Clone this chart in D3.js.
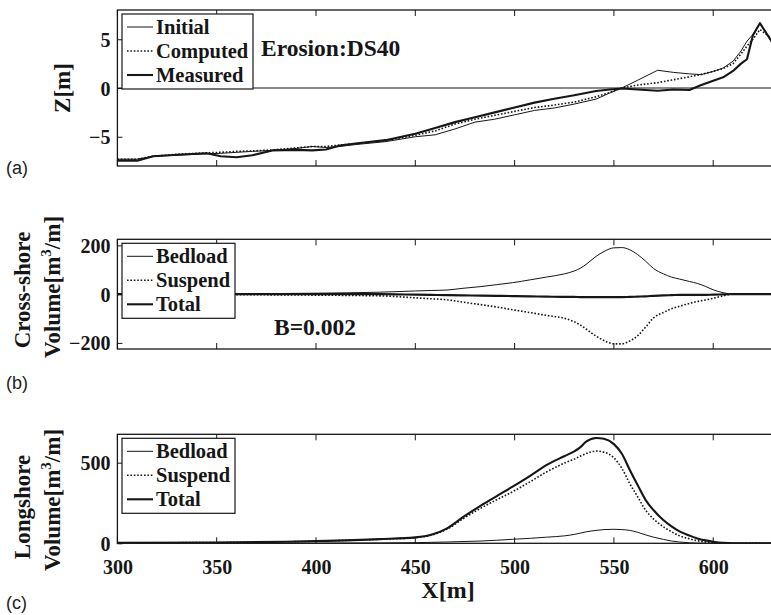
<!DOCTYPE html>
<html><head><meta charset="utf-8">
<script src="https://cdn.jsdelivr.net/npm/d3@7/dist/d3.min.js"></script>
<style>body{margin:0;background:#fff}svg{display:block}
.sf{font-family:'Liberation Serif','Tinos','Times New Roman',Times,'DejaVu Serif',serif;font-weight:bold}</style>
</head><body>
<svg id="c" width="771" height="615"></svg>
<script>
// ---------- DATA ----------
const xProfile = [300,310,318,330,345,352,360,368,378,390,398,405,412,420,435,450,460,470,480,490,500,510,520,530,541,548,554,562,572,580,588,594,600,605,610,614,617,620,623.5,630];
const initialZ  = [-7.3,-7.3,-7.0,-6.9,-6.75,-6.7,-6.6,-6.5,-6.4,-6.2,-6.0,-6.1,-6.0,-5.8,-5.5,-5.0,-4.8,-4.2,-3.5,-3.2,-2.75,-2.3,-2.05,-1.65,-1.14,-0.5,0,0.8,1.82,1.6,1.45,1.37,1.7,2.05,2.75,3.8,4.8,5.5,6.65,4.5];
const computedZ = [-7.3,-7.3,-7.0,-6.8,-6.65,-6.6,-6.5,-6.45,-6.35,-6.15,-6.0,-6.0,-5.85,-5.7,-5.4,-4.85,-4.4,-3.7,-3.2,-2.8,-2.4,-2.0,-1.75,-1.45,-0.9,-0.45,0,0.3,0.55,0.85,1.15,1.4,1.7,2.0,2.5,3.5,4.3,5.0,6.0,5.0];
const measuredZ = [-7.45,-7.45,-7.0,-6.85,-6.7,-7.0,-7.1,-6.9,-6.4,-6.35,-6.4,-6.3,-5.9,-5.7,-5.35,-4.7,-4.1,-3.5,-3.0,-2.5,-2.0,-1.5,-1.1,-0.75,-0.3,-0.15,-0.05,-0.15,-0.28,-0.15,-0.2,0.3,0.75,1.1,1.75,2.5,2.95,5.4,6.65,4.6];

const xTransport = [300,350,400,432,450,458,466,474,483,491,499,508,516,525,530,533,536,541,545,550,554,558,562,566,570,575,579,583,588,592,596,600,605,610,620,630];
const crossBedload = [0,1,4,8,13,15,17,24,31,39,47,59,70,83,95,106,122,155,175,190,191,182,162,135,105,83,70,62,52,44,32,18,6,0,0,0];
const crossSuspend = [-1,-2,-4,-7,-15,-19,-23,-33,-43,-53,-64,-76,-87,-99,-113,-126,-143,-172,-190,-204,-204,-192,-170,-135,-97,-75,-60,-50,-38,-30,-24,-17,-7,0,0,0];
const crossTotal   = [0,0,0,0,-2,-3,-4,-5,-6,-7,-8,-9,-10,-11,-11,-12,-12,-12,-12,-12,-12,-11,-10,-9,-7,-5,-4,-3,-3,-3,-3,-2,-1,0,0,0];
const longBedload = [0,0,1,2,4,6,8,11,14,19,25,31,38,46,55,63,71,80,85,87,85,80,68,52,38,24,14,8,3,1,0,0,0,0,0,0];
const longSuspend = [3,5,13,25,35,50,88,152,218,270,320,383,442,497,522,540,556,572,565,530,465,370,288,205,150,102,72,47,28,16,8,3,1,0,0,0];
const longTotal   = [3,5,14,26,37,53,93,162,234,293,351,420,485,540,570,595,630,653,648,615,555,455,360,268,205,143,105,74,48,30,18,10,3,0,0,0];

const xTicks = [300,350,400,450,500,550,600];
const zTicks = [-5,0,5];
const crossTicks = [-200,0,200];
const longTicks = [0,500];

// ---------- LAYOUT ----------
const svg = d3.select('#c');
const ink = '#161616';
const x = d3.scaleLinear().domain([300,630]).range([117.4, 772.8]);

const panels = [
  {id:'a', top:10, bottom:166, domain:[-8,8], ticks:zTicks, xs:xProfile, curve:d3.curveLinear,
   series:[{name:'Initial', v:initialZ, w:1, dash:null},
           {name:'Computed', v:computedZ, w:1.6, dash:'1.6,1.8'},
           {name:'Measured', v:measuredZ, w:2.1, dash:null}],
   legendW:131, zeroLine:true},
  {id:'b', top:239.3, bottom:349, domain:[-225,225], ticks:crossTicks, xs:xTransport, curve:d3.curveMonotoneX,
   series:[{name:'Bedload', v:crossBedload, w:1, dash:null},
           {name:'Suspend', v:crossSuspend, w:1.6, dash:'1.6,1.8'},
           {name:'Total', v:crossTotal, w:2.1, dash:null}],
   legendW:113},
  {id:'c', top:434.3, bottom:543.3, domain:[0,676], ticks:longTicks, xs:xTransport, curve:d3.curveMonotoneX,
   series:[{name:'Bedload', v:longBedload, w:1, dash:null},
           {name:'Suspend', v:longSuspend, w:1.6, dash:'1.6,1.8'},
           {name:'Total', v:longTotal, w:2.1, dash:null}],
   legendW:113, xLabels:true}
];

panels.forEach(p => {
  const y = d3.scaleLinear().domain(p.domain).range([p.bottom, p.top]);
  const g = svg.append('g');
  const x0 = x.range()[0], x1 = x.range()[1];
  g.append('clipPath').attr('id','clip'+p.id).append('rect')
    .attr('x',x0).attr('y',p.top).attr('width',x1-x0).attr('height',p.bottom-p.top);

  if (p.zeroLine) {
    g.append('line').attr('x1',x0).attr('x2',x1).attr('y1',y(0)).attr('y2',y(0))
      .attr('stroke',ink).attr('stroke-width',1.1);
  }
  const line = d3.line().x((d,i)=>x(p.xs[i])).y(d=>y(d)).curve(p.curve);
  const lg = g.append('g').attr('clip-path','url(#clip'+p.id+')');
  p.series.forEach(s => {
    lg.append('path').datum(s.v).attr('d',line).attr('fill','none')
      .attr('stroke',ink).attr('stroke-width',s.w)
      .attr('stroke-dasharray',s.dash).attr('stroke-linejoin','round');
  });

  g.append('rect').attr('x',x0).attr('y',p.top).attr('width',x1-x0).attr('height',p.bottom-p.top)
    .attr('fill','none').attr('stroke',ink).attr('stroke-width',1.3);

  xTicks.forEach(t => {
    g.append('line').attr('x1',x(t)).attr('x2',x(t)).attr('y1',p.bottom).attr('y2',p.bottom-6).attr('stroke',ink).attr('stroke-width',1);
    g.append('line').attr('x1',x(t)).attr('x2',x(t)).attr('y1',p.top).attr('y2',p.top+6).attr('stroke',ink).attr('stroke-width',1);
  });
  if (p.xLabels) {
    const ax = g.append('g').attr('transform',`translate(0,${p.bottom})`)
      .call(d3.axisBottom(x).tickValues(xTicks).tickSize(0).tickPadding(0).tickFormat(d3.format('d')));
    ax.select('.domain').remove();
    ax.attr('font-family',null).attr('font-size',null);
    ax.selectAll('text').attr('dy',null).attr('y',31).attr('fill',ink)
      .attr('class','sf').style('font-size','20px');
  }
  const ay = g.append('g').attr('transform',`translate(${x0},0)`)
    .call(d3.axisLeft(y).tickValues(p.ticks).tickSize(-5).tickPadding(7).tickFormat(d3.format('d')));
  ay.select('.domain').remove();
  ay.attr('font-family',null).attr('font-size',null);
  ay.selectAll('line').attr('stroke',ink);
  ay.selectAll('text').attr('fill',ink).attr('dy','0.35em')
    .attr('class','sf').style('font-size','20px');

  const lx = 122, ly = p.top + 4;
  const leg = g.append('g');
  leg.append('rect').attr('x',lx).attr('y',ly).attr('width',p.legendW).attr('height',75)
    .attr('fill','#fff').attr('stroke',ink).attr('stroke-width',1.2);
  p.series.forEach((s,i) => {
    const cy = ly + 13 + i*24;
    leg.append('line').attr('x1',lx+5).attr('x2',lx+31).attr('y1',cy).attr('y2',cy)
      .attr('stroke',ink).attr('stroke-width',s.w).attr('stroke-dasharray',s.dash);
    leg.append('text').attr('x',lx+34).attr('y',cy+7).text(s.name).attr('fill',ink)
      .attr('class','sf').style('font-size','20.5px');
  });
});

function bold(t, xx, yy, size) {
  return svg.append('text').attr('x',xx).attr('y',yy).text(t).attr('fill',ink)
    .attr('class','sf').style('font-size',size+'px');
}
bold('Erosion:DS40', 261, 56, 23.5);
bold('B=0.002', 274, 335, 23.5);
bold('X[m]', 448, 598, 24).attr('text-anchor','middle');

function vlabel(xx, yy, parts) {
  const t = svg.append('text').attr('transform',`translate(${xx},${yy}) rotate(-90)`)
    .attr('text-anchor','middle').attr('fill',ink)
    .attr('class','sf').style('font-size','23px');
  parts.forEach(pt => {
    const ts = t.append('tspan').text(pt.t);
    if (pt.sup) ts.attr('dy',-9).style('font-size','15px');
    if (pt.after) ts.attr('dy',9);
  });
  return t;
}
vlabel(70, 88, [{t:'Z[m]'}]);
vlabel(30, 290, [{t:'Cross-shore'}]);
vlabel(60, 287, [{t:'Volume[m'},{t:'3',sup:true},{t:'/m]',after:true}]);
vlabel(30, 507, [{t:'Longshore'}]);
vlabel(60, 500, [{t:'Volume[m'},{t:'3',sup:true},{t:'/m]',after:true}]);

[['(a)',174],['(b)',389],['(c)',609]].forEach(([t,yy]) => {
  svg.append('text').attr('x',6).attr('y',yy).text(t).attr('fill','#222')
    .style('font-family','"Liberation Sans",Arial,sans-serif').style('font-size','18px');
});
</script>
</body></html>
